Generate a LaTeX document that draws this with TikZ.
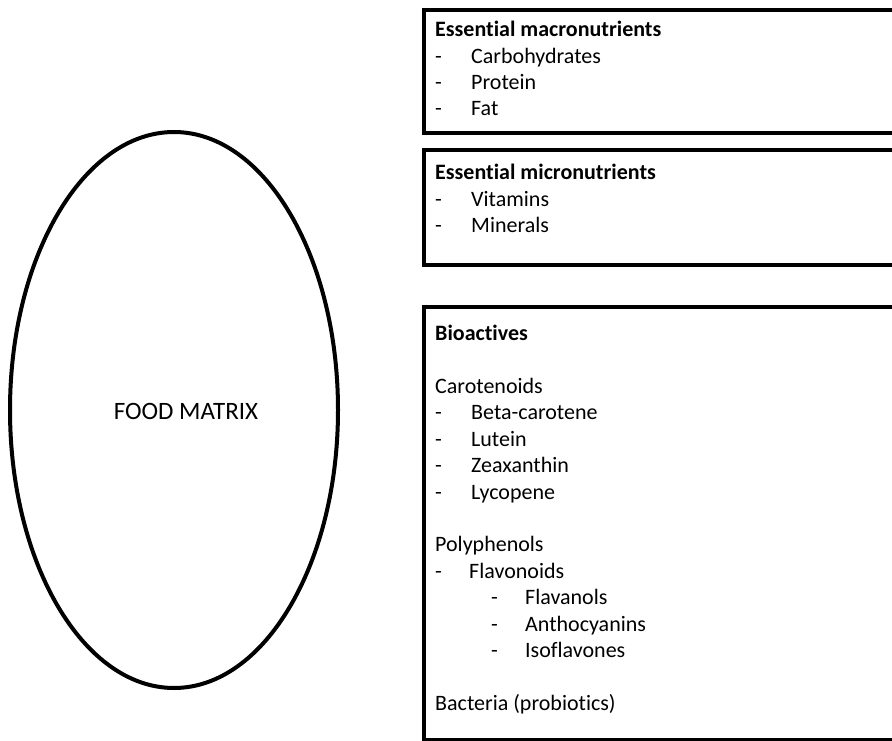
\documentclass[tikz,border=0pt]{standalone}
\usepackage{fontspec}
\setmainfont[Ligatures=NoCommon]{Carlito}
\usepackage{tikz}
\usetikzlibrary{shapes, positioning}

\newcommand{\itm}[1]{\makebox[36pt][l]{-}#1}
\newcommand{\itmb}[1]{\makebox[34pt][l]{-}#1}
\newcommand{\subitm}[1]{\hspace*{56pt}\makebox[34pt][l]{-}#1}

\tikzset{
    panel/.style={draw, line width=4pt, anchor=north west, minimum width=520pt, inner sep=0pt},
    listtext/.style={inner sep=0pt, align=left, anchor=north west, font=\fontsize{22}{26.4}\selectfont}
}

\begin{document}
\begin{tikzpicture}[x=1pt, y=-1pt]
        \useasboundingbox (0,0) rectangle (892,741);
        % food matrix
        \node[draw, ellipse, line width=4pt, minimum width=328pt, minimum height=556pt] (matrix) at (174,410) {};
        \node[font=\fontsize{25}{30}\selectfont] (matrixlabel) at (186,411) {FOOD MATRIX};

        % right column
        \node[panel, minimum height=123pt] (macro) at (422,8) {};
        \node[panel, minimum height=115pt] (micro) at (422,148) {};
        \node[panel, minimum height=433pt] (bio) at (422,305) {};

        \node[listtext, below right=13pt and 13pt of macro.north west] (macrotext) {
            \textbf{Essential macronutrients}\\
            \itm{Carbohydrates}\\
            \itm{Protein}\\
            \itm{Fat}
        };
        \node[listtext, below right=16pt and 13pt of micro.north west] (microtext) {
            \textbf{Essential micronutrients}\\
            \itm{Vitamins}\\
            \itm{Minerals}
        };
        \node[listtext, below right=20pt and 13pt of bio.north west] (biotext) {
            \textbf{Bioactives}\\
            \mbox{}\\
            Carotenoids\\
            \itm{Beta-carotene}\\
            \itm{Lutein}\\
            \itm{Zeaxanthin}\\
            \itm{Lycopene}\\
            \mbox{}\\
            Polyphenols\\
            \itmb{Flavonoids}\\
            \subitm{Flavanols}\\
            \subitm{Anthocyanins}\\
            \subitm{Isoflavones}\\
            \mbox{}\\
            Bacteria (probiotics)
        };
    \end{tikzpicture}
\end{document}
